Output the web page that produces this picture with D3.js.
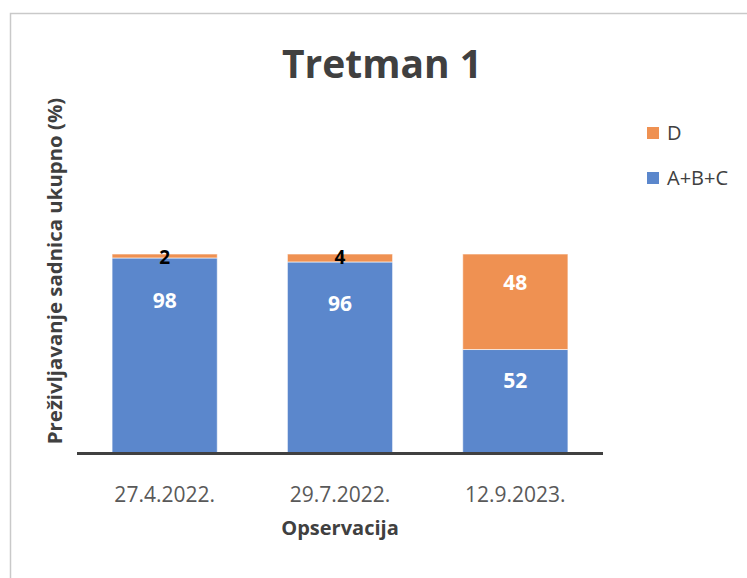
<!DOCTYPE html>
<html>
<head>
<meta charset="utf-8">
<script src="https://cdn.jsdelivr.net/npm/d3@7"></script>
<style>
  html, body { margin: 0; padding: 0; background: #fff; }
  svg { display: block; font-family: "Open Sans", "Liberation Sans", sans-serif; }
</style>
</head>
<body>
<svg id="chart" width="747" height="578"></svg>
<script>
// chart data
var categories = ["27.4.2022.", "29.7.2022.", "12.9.2023."];
var seriesNames = ["A+B+C", "D"];
var abc = [98, 96, 52];
var dVals = [2, 4, 48];
var colors = ["#5b87cc", "#ef9152"];

var svg = d3.select("#chart"),
    width = +svg.attr("width"),
    height = +svg.attr("height");

// outer chart frame (only top + left visible in the crop)
svg.append("rect")
    .attr("x", 10.5).attr("y", 13.5)
    .attr("width", width + 20).attr("height", height + 20)
    .attr("fill", "none")
    .attr("stroke", "#c9c9c9")
    .attr("stroke-width", 1.5);

var x = d3.scaleBand()
    .domain(categories)
    .range([77, 603])
    .paddingInner(0.4)
    .paddingOuter(0.2);

var y = d3.scaleLinear()
    .domain([0, 100])
    .range([453, 254]);

var rows = categories.map(function(c, i) {
    return { cat: c, "A+B+C": abc[i], "D": dVals[i] };
});
var stacked = d3.stack().keys(seriesNames)(rows);

// bars
var layers = svg.append("g").selectAll("g")
    .data(stacked)
    .join("g")
    .attr("fill", function(d, i) { return colors[i]; });

layers.selectAll("rect")
    .data(function(d) { return d; })
    .join("rect")
    .attr("x", function(d) { return x(d.data.cat); })
    .attr("y", function(d) { return y(d[1]); })
    .attr("width", x.bandwidth())
    .attr("height", function(d) { return y(d[0]) - y(d[1]); })
    .attr("stroke", "#ffffff")
    .attr("stroke-opacity", 0.6)
    .attr("stroke-width", 1);

// data labels (Excel put them in the upper part of each segment)
stacked.forEach(function(layer) {
    layer.forEach(function(d) {
        var v = d[1] - d[0];
        var small = v < 10;
        var frac = d[0] > 0 ? 0.7 : (v > 80 ? 0.78 : 0.7);
        var ly = small ? y(d[1]) + 3 : y(d[0] + v * frac);
        svg.append("text")
            .attr("x", x(d.data.cat) + x.bandwidth() / 2)
            .attr("y", ly)
            .attr("dy", "0.35em")
            .attr("text-anchor", "middle")
            .attr("font-weight", "bold")
            .attr("font-size", small ? 19 : 21)
            .attr("fill", small ? "#000000" : "#ffffff")
            .text(v);
    });
});

// x axis baseline
svg.append("line")
    .attr("x1", x.range()[0]).attr("x2", x.range()[1])
    .attr("y1", y(0) + 0.5).attr("y2", y(0) + 0.5)
    .attr("stroke", "#404040")
    .attr("stroke-width", 3);

// x tick labels
var xAxis = svg.append("g")
    .attr("transform", "translate(0," + (y(0) + 2) + ")")
    .call(d3.axisBottom(x).tickSize(0).tickPadding(32));
xAxis.select(".domain").remove();
xAxis.selectAll("text")
    .attr("font-family", "Open Sans, sans-serif")
    .attr("font-size", 21)
    .attr("fill", "#595959");

// titles
svg.append("text")
    .attr("x", 382).attr("y", 78)
    .attr("text-anchor", "middle")
    .attr("font-weight", "bold")
    .attr("font-size", 39)
    .attr("fill", "#404040")
    .text("Tretman 1");

svg.append("text")
    .attr("x", 340).attr("y", 535)
    .attr("text-anchor", "middle")
    .attr("font-weight", "bold")
    .attr("font-size", 20)
    .attr("fill", "#404040")
    .text("Opservacija");

svg.append("text")
    .attr("transform", "translate(62,271) rotate(-90)")
    .attr("text-anchor", "middle")
    .attr("font-weight", "bold")
    .attr("font-size", 20.4)
    .attr("fill", "#404040")
    .text("Preživljavanje sadnica ukupno (%)");

// legend (D on top)
var legendItems = [{ name: "D", color: colors[1] }, { name: "A+B+C", color: colors[0] }];
var legend = svg.append("g").selectAll("g")
    .data(legendItems)
    .join("g")
    .attr("transform", function(d, i) { return "translate(647," + (133 + i * 45) + ")"; });
legend.append("rect")
    .attr("x", 0).attr("y", -6)
    .attr("width", 12).attr("height", 12)
    .attr("fill", function(d) { return d.color; });
legend.append("text")
    .attr("x", 20).attr("y", 0)
    .attr("dy", "0.35em")
    .attr("font-size", 20)
    .attr("fill", "#404040")
    .text(function(d) { return d.name; });
</script>
</body>
</html>
